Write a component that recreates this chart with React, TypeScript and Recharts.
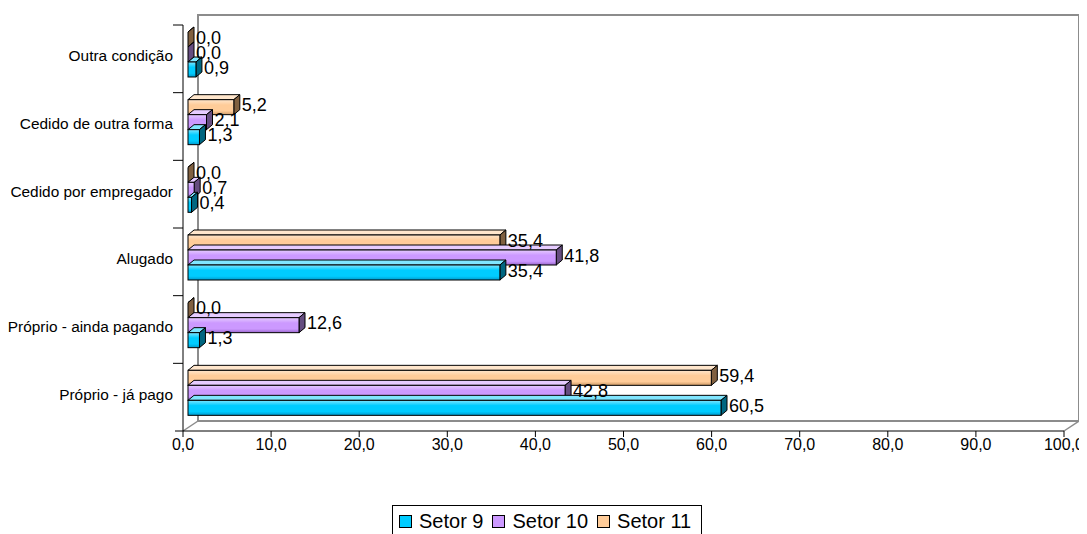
import React from 'react';
import { BarChart, Bar, XAxis, YAxis, LabelList } from 'recharts';

// categories listed top to bottom as they appear in the chart
const categories = [
  'Outra condição',
  'Cedido de outra forma',
  'Cedido por empregador',
  'Alugado',
  'Próprio - ainda pagando',
  'Próprio - já pago',
];
const setor9 = [0.9, 1.3, 0.4, 35.4, 1.3, 60.5];
const setor10 = [0.0, 2.1, 0.7, 41.8, 12.6, 42.8];
const setor11 = [0.0, 5.2, 0.0, 35.4, 0.0, 59.4];
const seriesNames = ['Setor 9', 'Setor 10', 'Setor 11'];
const xTicks = [0, 10, 20, 30, 40, 50, 60, 70, 80, 90, 100];

const data = categories.map((name, i) => ({
  name,
  s9: setor9[i],
  s10: setor10[i],
  s11: setor11[i],
}));

const FONT = '"Liberation Sans", Arial, Helvetica, sans-serif';
const W = 1079;
const H = 480;
const MARGIN = { top: 17, right: 23, left: 0, bottom: 27 };
const Y_W = 175;
const X_H = 30;
const PLOT_LEFT = MARGIN.left + Y_W;
const PLOT_TOP = MARGIN.top;
const PLOT_W = W - PLOT_LEFT - MARGIN.right;
const PLOT_H = H - MARGIN.top - MARGIN.bottom - X_H;

// 3D look
const WALL_DX = 15;
const WALL_DY = -10;
const SHIFT_X = 5;
const SHIFT_Y = -4;
const DEPTH_X = 6;
const DEPTH_Y = -5;

const series = [
  { key: 's9', name: seriesNames[0], base: '#00CCFF', light: '#80E6FF', dark: '#0099CC', side: '#006680' },
  { key: 's10', name: seriesNames[1], base: '#CC99FF', light: '#E6CCFF', dark: '#9966CC', side: '#664D80' },
  { key: 's11', name: seriesNames[2], base: '#FFCC99', light: '#FFE6CC', dark: '#CC9966', side: '#806040' },
];

const fmt = (v: number) => Number(v).toFixed(1).replace('.', ',');

const makeShape = (st: any) => (props: any) => {
  const { x, y, height } = props;
  const w = Math.max(props.width || 0, 0);
  const x0 = x + SHIFT_X;
  const y0 = y + SHIFT_Y;
  const h = height;
  const top = `${x0},${y0} ${x0 + DEPTH_X},${y0 + DEPTH_Y} ${x0 + w + DEPTH_X},${y0 + DEPTH_Y} ${x0 + w},${y0}`;
  const right = `${x0 + w},${y0} ${x0 + w + DEPTH_X},${y0 + DEPTH_Y} ${x0 + w + DEPTH_X},${y0 + h + DEPTH_Y} ${x0 + w},${y0 + h}`;
  return (
    <g>
      <polygon points={top} fill={st.light} stroke="#000" strokeWidth={1} strokeLinejoin="round" />
      <polygon points={right} fill={st.side} stroke="#000" strokeWidth={1} strokeLinejoin="round" />
      <rect x={x0} y={y0} width={w} height={h} fill={`url(#grad-${st.key})`} stroke="#000" strokeWidth={1} />
    </g>
  );
};

const renderLabel = (props: any) => {
  const { x, y, width, height, value } = props;
  return (
    <text
      x={x + Math.max(width, 0) + SHIFT_X + DEPTH_X + 2}
      y={y + SHIFT_Y + height / 2 - 2}
      dominantBaseline="central"
      fontSize={18}
      fontFamily={FONT}
      fill="#000"
    >
      {fmt(value)}
    </text>
  );
};

const CategoryTick = (props: any) => {
  const { x, y, payload, index } = props;
  const step = PLOT_H / categories.length;
  const axisX = x + 10;
  return (
    <g>
      <line x1={axisX - 10} x2={axisX} y1={y - step / 2} y2={y - step / 2} stroke="#000" />
      {index === categories.length - 1 && (
        <line x1={axisX - 8} x2={axisX} y1={y + step / 2} y2={y + step / 2} stroke="#000" />
      )}
      <text x={x} y={y - 3} textAnchor="end" dominantBaseline="central" fontSize={15.4} fontFamily={FONT} fill="#000">
        {payload.value}
      </text>
    </g>
  );
};

export default function App() {
  // bars drawn top to bottom within a group: Setor 11, Setor 10, Setor 9
  const drawOrder = [series[2], series[1], series[0]];

  return (
    <div style={{ position: 'relative', width: W, height: 526, fontFamily: FONT }}>
      {/* back wall and floor of the 3D box */}
      <svg width={W} height={H} style={{ position: 'absolute', left: 0, top: 0 }}>
        <defs>
          {series.map((st) => (
            <linearGradient key={st.key} id={`grad-${st.key}`} x1="0" y1="0" x2="0" y2="1">
              <stop offset="0%" stopColor={st.light} />
              <stop offset="35%" stopColor={st.base} />
              <stop offset="75%" stopColor={st.base} />
              <stop offset="100%" stopColor={st.dark} />
            </linearGradient>
          ))}
        </defs>
        <rect
          x={PLOT_LEFT + WALL_DX}
          y={PLOT_TOP + WALL_DY}
          width={PLOT_W}
          height={PLOT_H}
          fill="none"
          stroke="#8C8C8C"
          strokeWidth={2}
        />
        <line
          x1={PLOT_LEFT}
          y1={PLOT_TOP + PLOT_H}
          x2={PLOT_LEFT + WALL_DX}
          y2={PLOT_TOP + PLOT_H + WALL_DY}
          stroke="#8C8C8C"
          strokeWidth={1.5}
        />
        <line
          x1={PLOT_LEFT + PLOT_W}
          y1={PLOT_TOP + PLOT_H}
          x2={PLOT_LEFT + PLOT_W + WALL_DX}
          y2={PLOT_TOP + PLOT_H + WALL_DY}
          stroke="#8C8C8C"
          strokeWidth={1.5}
        />
      </svg>

      <div style={{ position: 'absolute', left: 0, top: 0 }}>
        <BarChart
          width={W}
          height={H}
          data={data}
          layout="vertical"
          margin={MARGIN}
          barSize={15}
          barGap={0}
        >
          <XAxis
            type="number"
            domain={[0, 100]}
            ticks={xTicks}
            interval={0}
            height={X_H}
            tickFormatter={fmt}
            axisLine={{ stroke: '#000' }}
            tickLine={{ stroke: '#000' }}
            tickSize={6}
            tick={{ fontSize: 16, fill: '#000', fontFamily: FONT }}
          />
          <YAxis
            type="category"
            dataKey="name"
            width={Y_W}
            axisLine={{ stroke: '#000' }}
            tickLine={false}
            tickSize={0}
            tickMargin={10}
            interval={0}
            tick={<CategoryTick />}
          />
          {drawOrder.map((st) => (
            <Bar
              key={st.key}
              dataKey={st.key}
              name={st.name}
              fill={st.base}
              shape={makeShape(st)}
              isAnimationActive={false}
            >
              <LabelList dataKey={st.key} content={renderLabel} />
            </Bar>
          ))}
        </BarChart>
      </div>

      {/* legend */}
      <div
        style={{
          position: 'absolute',
          left: 384,
          top: 497,
          height: 30,
          border: '1px solid #000',
          display: 'flex',
          alignItems: 'center',
          padding: '0 10px 0 6px',
          fontSize: 20,
          background: '#fff',
        }}
      >
        {series.map((st, i) => (
          <div key={st.key} style={{ display: 'flex', alignItems: 'center', marginLeft: i === 0 ? 0 : 9 }}>
            <span
              style={{
                display: 'inline-block',
                width: 11,
                height: 11,
                border: '1px solid #000',
                background: st.base,
                marginRight: 7,
              }}
            />
            <span>{st.name}</span>
          </div>
        ))}
      </div>
    </div>
  );
}
